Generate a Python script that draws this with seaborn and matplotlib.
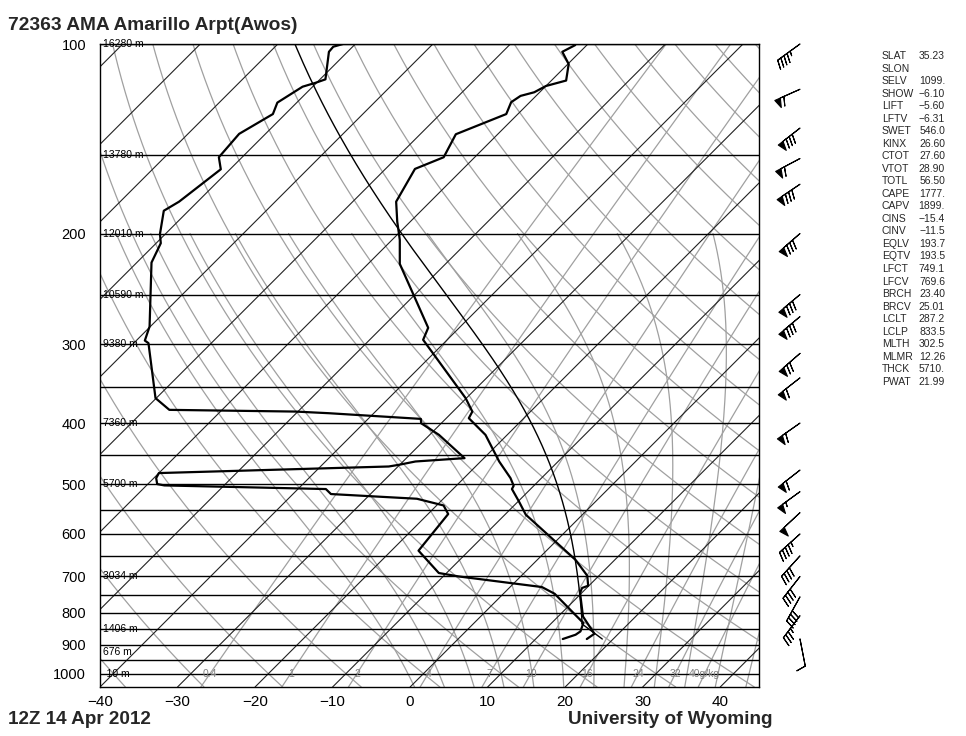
import numpy as np
import pandas as pd
import matplotlib
matplotlib.use("Agg")
import matplotlib.pyplot as plt
from matplotlib.ticker import NullLocator
import seaborn as sns

sns.set_theme(style="white")
plt.rcParams['font.family'] = ['Liberation Sans', 'DejaVu Sans']

# ---------------- data ----------------
title_text = "72363 AMA Amarillo Arpt(Awos)"
date_text = "12Z 14 Apr 2012"
credit_text = "University of Wyoming"

temp_p = [100.4, 102.9, 107.6, 114.3, 116.6, 119.3, 120.9, 123.7, 129.2, 139.1,
          151.3, 157.9, 178.0, 191.4, 204.7, 223.5, 282.3, 295.0, 365.1, 383.5,
          392.9, 417.6, 460.3, 489.1, 503.0, 509.1, 532.7, 559.2, 659.2, 699.0,
          725.0, 731.1, 744.6, 811.3, 856.9, 864.1, 881.0]
temp_t = [-61.5, -62.3, -59.9, -58.1, -60.0, -60.7, -62.0, -62.4, -61.5, -65.4,
          -64.0, -66.2, -64.4, -61.7, -59.0, -55.9, -44.0, -43.1, -30.1, -27.5,
          -27.1, -22.8, -17.6, -14.0, -12.6, -12.4, -9.9, -7.3, 4.9, 8.5,
          9.9, 9.4, 9.8, 13.2, 16.4, 16.9, 16.6]

dewp_p = [100.0, 101.0, 102.9, 113.8, 115.2, 116.9, 123.9, 129.2, 138.9, 151.3,
          158.1, 178.0, 184.0, 200.3, 207.2, 222.4, 281.0, 295.8, 298.6, 365.1,
          381.1, 383.5, 385.8, 393.9, 400.2, 417.6, 454.7, 460.3, 465.9, 468.8,
          480.2, 489.1, 499.9, 502.4, 509.1, 518.5, 527.5, 540.6, 557.8, 637.8,
          692.1, 700.8, 728.5, 746.5, 831.1, 856.9, 867.3, 881.0]
dewp_t = [-91.6, -92.5, -92.4, -89.3, -90.1, -91.3, -92.5, -91.6, -93.4, -93.0,
          -91.2, -92.4, -93.2, -90.7, -89.4, -88.1, -80.1, -78.9, -78.1, -70.1,
          -66.8, -50.3, -45.8, -33.2, -32.6, -28.8, -22.5, -28.4, -30.1, -31.2,
          -60.0, -59.7, -58.8, -57.7, -36.4, -35.1, -23.4, -19.1, -17.4, -16.5,
          -11.0, -8.0, 4.1, 6.6, 14.1, 14.8, 14.6, 13.5]

wind_p = [100, 118, 136, 152, 167, 200, 250, 271, 310, 339,
          400, 475, 514, 555, 600, 650, 701, 755, 809, 881]
wind_dir = [234, 246, 232, 242, 236, 229, 230, 230, 229, 232,
            235, 232, 234, 227, 228, 222, 218, 209, 217, 169]
wind_spd = [45, 60, 80, 60, 80, 80, 80, 80, 70, 60,
            60, 60, 55, 50, 45, 40, 40, 40, 35, 10]

height_p = [100, 150, 200, 250, 300, 400, 500, 700, 850, 925, 1000]
height_lbl = ["16280 m", "13780 m", "12010 m", "10590 m", "9380 m", "7360 m",
              "5700 m", "3034 m", "1406 m", "676 m", "-10 m"]

stat_names = ["SLAT", "SLON", "SELV", "SHOW", "LIFT", "LFTV", "SWET", "KINX",
              "CTOT", "VTOT", "TOTL", "CAPE", "CAPV", "CINS", "CINV", "EQLV",
              "EQTV", "LFCT", "LFCV", "BRCH", "BRCV", "LCLT", "LCLP", "MLTH",
              "MLMR", "THCK", "PWAT"]
stat_vals = ["35.23", "", "1099.", "\u22126.10", "\u22125.60", "\u22126.31", "546.0",
             "26.60", "27.60", "28.90", "56.50", "1777.", "1899.", "\u221215.4",
             "\u221211.5", "193.7", "193.5", "749.1", "769.6", "23.40", "25.01",
             "287.2", "833.5", "302.5", "12.26", "5710.", "21.99"]

mix_ratios = [0.4, 1, 2, 4, 7, 10, 16, 24, 32, 40]
mix_labels = ["0.4", "1", "2", "4", "7", "10", "16", "24", "32", "40g/kg"]

x_ticks = [-40, -30, -20, -10, 0, 10, 20, 30, 40]
p_ticks = [100, 200, 300, 400, 500, 600, 700, 800, 900, 1000]
isobars = list(range(100, 1001, 50))

parcel_theta = 302.5     # MLTH (K)
lcl_t = 287.2            # LCLT (K)
lcl_p = 833.5            # LCLP (hPa)
sfc_p = 881.0

# ---------------- geometry ----------------
W, H = 966, 736
L, R, T_, B = 100, 759, 44, 687
P_BOT, P_TOP = 1050.0, 100.0
X_MIN, X_MAX = -40.0, 45.0
px_per_deg = (R - L) / (X_MAX - X_MIN)
px_per_ln = (B - T_) / np.log(P_BOT / P_TOP)
K = px_per_ln / px_per_deg


def skew(t, p):
    return np.asarray(t, float) + K * np.log(P_BOT / np.asarray(p, float))


fig = plt.figure(figsize=(W / 100, H / 100), dpi=100)
fig.patch.set_facecolor("white")
ax = fig.add_axes([L / W, (H - B) / H, (R - L) / W, (B - T_) / H])
ax.set_facecolor("white")
ax.set_yscale("log")
ax.set_ylim(P_BOT, P_TOP)
ax.set_xlim(X_MIN, X_MAX)

GREY = "#a0a0a0"
pp = np.geomspace(P_BOT, P_TOP, 200)

# isotherms
for t0 in range(-140, 50, 10):
    ax.plot(skew([t0, t0], [P_BOT, P_TOP]), [P_BOT, P_TOP], color="#222222", lw=0.8, zorder=2)

# dry adiabats
for t0 in range(-40, 200, 10):
    th = t0 + 273.15
    tt = th * (pp / 1000.0) ** 0.2857 - 273.15
    ax.plot(skew(tt, pp), pp, color=GREY, lw=0.9, zorder=1)


# moist adiabats
def es(tk):
    return 6.112 * np.exp(17.67 * (tk - 273.15) / (tk - 29.65))


def dtdp(p, tk):
    Rd, Cp, Lv, eps = 287.04, 1005.7, 2.501e6, 0.622
    e = es(tk)
    rs = eps * e / (p - e)
    return (1.0 / p) * (Rd * tk + Lv * rs) / (Cp + Lv * Lv * rs * eps / (Rd * tk * tk))


def moist(t0c, p0, p_end, n=400):
    ps = np.linspace(p0, p_end, n)
    ts = np.empty(n)
    ts[0] = t0c + 273.15
    for i in range(1, n):
        h = ps[i] - ps[i - 1]
        p, t = ps[i - 1], ts[i - 1]
        k1 = dtdp(p, t)
        k2 = dtdp(p + h / 2, t + h * k1 / 2)
        k3 = dtdp(p + h / 2, t + h * k2 / 2)
        k4 = dtdp(p + h, t + h * k3)
        ts[i] = t + h * (k1 + 2 * k2 + 2 * k3 + k4) / 6
    return ps, ts - 273.15


for t0 in range(-2, 43, 4):
    pu, tu = moist(t0, 1000.0, 200.0)
    pd_, td_ = moist(t0, 1000.0, P_BOT, 20)
    ps = np.concatenate([pd_[::-1], pu[1:]])
    ts = np.concatenate([td_[::-1], tu[1:]])
    ax.plot(skew(ts, ps), ps, color=GREY, lw=0.9, zorder=1)

# mixing ratio lines
pm = np.geomspace(P_BOT, P_TOP, 80)
for w, lab in zip(mix_ratios, mix_labels):
    e = (w / 1000.0) * pm / (0.622 + w / 1000.0)
    a = np.log(e / 6.112)
    td = 243.5 * a / (17.67 - a)
    ax.plot(skew(td, pm), pm, color=GREY, lw=0.9, zorder=1)
    e1 = (w / 1000.0) * 1000 / (0.622 + w / 1000.0)
    a1 = np.log(e1 / 6.112)
    td1 = 243.5 * a1 / (17.67 - a1)
    ax.text(skew(td1, 1000), 1000, lab, color="#808080", fontsize=7.5,
            ha="center", va="center", zorder=3)

# isobars
for p in isobars:
    ax.axhline(p, color="black", lw=1.0, zorder=2)

# height labels
for p, lab in zip(height_p, height_lbl):
    ax.text(X_MIN + 0.4, p, lab, fontsize=7.5, ha="left", va="center", color="black", zorder=2.5)

# parcel path
p_dry = np.linspace(sfc_p, lcl_p, 20)
t_dry = parcel_theta * (p_dry / 1000.0) ** 0.2857 - 273.15
p_wet, t_wet = moist(lcl_t - 273.15, lcl_p, P_TOP)
ax.plot(skew(np.concatenate([t_dry, t_wet]), np.concatenate([p_dry, p_wet])),
        np.concatenate([p_dry, p_wet]), color="black", lw=1.0, zorder=4)

# profiles
temp_df = pd.DataFrame({"p": temp_p, "x": skew(temp_t, temp_p)})
dewp_df = pd.DataFrame({"p": dewp_p, "x": skew(dewp_t, dewp_p)})
sns.lineplot(data=temp_df, x="x", y="p", sort=False, estimator=None, color="black",
             lw=1.6, ax=ax, zorder=5)
sns.lineplot(data=dewp_df, x="x", y="p", sort=False, estimator=None, color="black",
             lw=1.6, ax=ax, zorder=5)

ax.set_yscale("log")
ax.set_ylim(P_BOT, P_TOP)
ax.set_xlim(X_MIN, X_MAX)
ax.yaxis.set_minor_locator(NullLocator())
ax.set_yticks(p_ticks)
ax.set_yticklabels([str(p) for p in p_ticks], fontsize=10.5)
ax.set_xticks(x_ticks)
ax.set_xticklabels([f"{t}".replace("-", "\u2212") for t in x_ticks], fontsize=11)
ax.tick_params(axis="both", length=0, colors="black")
ax.tick_params(axis="y", pad=10)
ax.tick_params(axis="x", pad=6)
ax.set_xlabel("")
ax.set_ylabel("")
for s in ax.spines.values():
    s.set_color("black")
    s.set_linewidth(1.0)
    s.set_zorder(6)

# wind barbs
bax = fig.add_axes([R / W, (H - B) / H, 80 / W, (B - T_) / H])
bax.set_yscale("log")
bax.set_ylim(P_BOT, P_TOP)
bax.set_xlim(0, 1)
bax.axis("off")
wd = np.deg2rad(np.asarray(wind_dir, float))
ws = np.asarray(wind_spd, float)
u = -ws * np.sin(wd)
v = -ws * np.cos(wd)
flip = np.asarray(wind_p) < 850
bax.barbs(np.full(len(wind_p), 41 / 80), wind_p, u, v, length=6.3, linewidth=0.8,
          color="black", sizes=dict(spacing=0.14, height=0.33, width=0.22),
          flip_barb=flip, clip_on=False)

# texts
fig.text(8 / W, 1 - 26 / H, title_text, fontsize=13.8, fontweight="bold", ha="left", va="center")
fig.text(8 / W, 1 - 719 / H, date_text, fontsize=13.6, fontweight="bold", ha="left", va="center")
fig.text(568 / W, 1 - 719 / H, credit_text, fontsize=13.6, fontweight="bold", ha="left", va="center")
for i, (n, v_) in enumerate(zip(stat_names, stat_vals)):
    y = 1 - (56 + i * 12.53) / H
    fig.text(882 / W, y, n, fontsize=7.5, ha="left", va="center")
    fig.text(945 / W, y, v_, fontsize=7.5, ha="right", va="center")

fig.savefig("out.png", dpi=100, facecolor="white")
